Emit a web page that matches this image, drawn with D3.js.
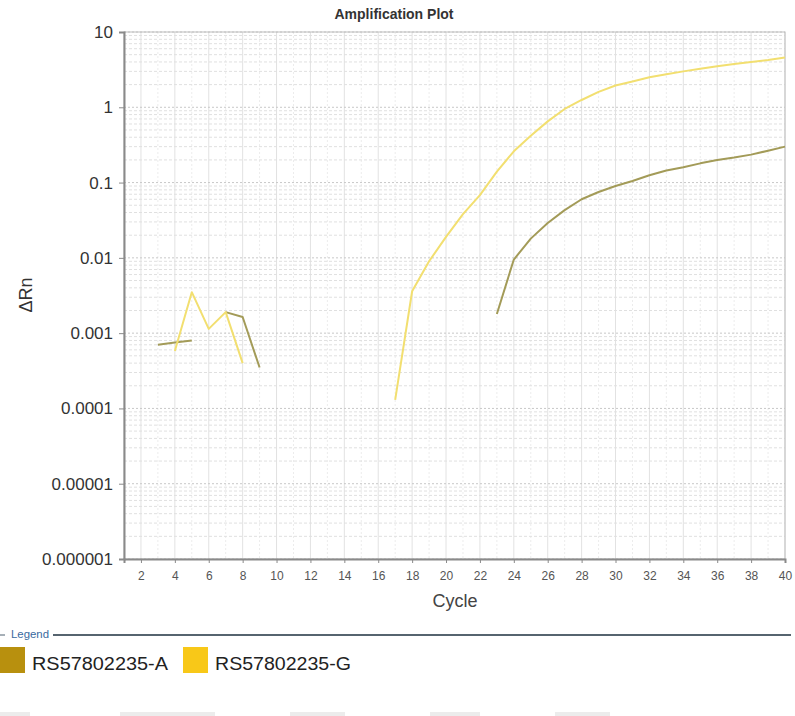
<!DOCTYPE html>
<html>
<head>
<meta charset="utf-8">
<script src="https://cdnjs.cloudflare.com/ajax/libs/d3/7.8.5/d3.min.js"></script>
<style>
  body { margin: 0; background: #fff; }
  svg { display: block; font-family: "Liberation Sans", Arial, sans-serif; }
</style>
</head>
<body>
<svg id="chart" width="795" height="716"></svg>
<script>
// cycles 1..40, null where the trace is not drawn
const cycles = d3.range(1, 41)
const seriesA = [null, null, 0.0007, 0.00075, 0.0008, null, 0.0019, 0.00164, 0.00035,
  null, null, null, null, null, null, null, null, null, null, null, null, null,
  0.0018, 0.0095, 0.018, 0.029, 0.043, 0.06, 0.075, 0.09, 0.105, 0.125, 0.145, 0.16,
  0.18, 0.2, 0.215, 0.235, 0.265, 0.3]
const seriesG = [null, null, null, 0.00058, 0.0035, 0.00114, 0.0019, 0.0004,
  null, null, null, null, null, null, null, null,
  0.00013, 0.0036, 0.009, 0.019, 0.038, 0.068, 0.14, 0.26, 0.42, 0.65, 0.95, 1.25,
  1.6, 1.95, 2.2, 2.5, 2.75, 3.0, 3.25, 3.5, 3.75, 4.0, 4.25, 4.6]
const seriesNames = ["RS57802235-A", "RS57802235-G"]
const lineColors = ["#a39b58", "#f2df70"]
const swatchColors = ["#b8900e", "#f8c818"]
const yTickValues = [10, 1, 0.1, 0.01, 0.001, 0.0001, 0.00001, 0.000001]
const yTickLabels = ["10", "1", "0.1", "0.01", "0.001", "0.0001", "0.00001", "0.000001"]
const xTickValues = d3.range(2, 41, 2)

const svg = d3.select("#chart")
const plot = {left: 124, right: 785, top: 32, bottom: 559}

const x = d3.scaleLinear().domain([1, 40]).range([plot.left, plot.right])
const y = d3.scaleLog().domain([0.000001, 10]).range([plot.bottom, plot.top])

// title
svg.append("text")
  .attr("x", 394).attr("y", 19)
  .attr("text-anchor", "middle")
  .attr("font-size", 14).attr("font-weight", "bold")
  .attr("fill", "#333")
  .text("Amplification Plot")

// grid - vertical
const grid = svg.append("g")
grid.selectAll("line.vgrid")
  .data(cycles.slice(1))
  .join("line")
  .attr("class", "vgrid")
  .attr("x1", d => x(d)).attr("x2", d => x(d))
  .attr("y1", plot.top).attr("y2", plot.bottom)
  .attr("stroke", d => d % 2 == 0 ? "#e2e2e2" : "#ececec")
  .attr("stroke-dasharray", d => d % 2 == 0 ? null : "2,2")

// grid - horizontal minor (2..9 per decade)
let minors = []
for (let e = -6; e < 1; e++) {
  for (let m = 2; m < 10; m++) minors.push(m * Math.pow(10, e))
}
grid.selectAll("line.hminor")
  .data(minors)
  .join("line")
  .attr("class", "hminor")
  .attr("x1", plot.left).attr("x2", plot.right)
  .attr("y1", d => y(d)).attr("y2", d => y(d))
  .attr("stroke", "#e0e0e0")
  .attr("stroke-dasharray", "3,2")

grid.selectAll("line.hmajor")
  .data(yTickValues)
  .join("line")
  .attr("class", "hmajor")
  .attr("x1", plot.left).attr("x2", plot.right)
  .attr("y1", d => y(d)).attr("y2", d => y(d))
  .attr("stroke", "#c8c8c8")
  .attr("stroke-dasharray", "2,2")

// frame
svg.append("rect")
  .attr("x", plot.left).attr("y", plot.top)
  .attr("width", plot.right - plot.left).attr("height", plot.bottom - plot.top)
  .attr("fill", "none").attr("stroke", "#bdbdbd")

// axes
const yAxis = d3.axisLeft(y)
  .tickValues(yTickValues)
  .tickFormat((d, i) => yTickLabels[i])
  .tickSize(5).tickPadding(6)
const yG = svg.append("g").attr("transform", `translate(${plot.left},0)`).call(yAxis)
yG.select(".domain").attr("stroke", "#8a8a8a").attr("stroke-width", 2)
yG.selectAll(".tick line").attr("stroke", "#8a8a8a")
yG.selectAll(".tick text").attr("font-size", 17).attr("fill", "#333")
  .attr("font-family", "Liberation Sans, Arial, sans-serif")

const xAxis = d3.axisBottom(x)
  .tickValues(xTickValues)
  .tickFormat(d3.format("d"))
  .tickSize(4).tickPadding(8)
const xG = svg.append("g").attr("transform", `translate(0,${plot.bottom})`).call(xAxis)
xG.select(".domain").attr("stroke", "#8a8a8a").attr("stroke-width", 2)
xG.selectAll(".tick line").attr("stroke", "#8a8a8a")
xG.selectAll(".tick text").attr("font-size", 12).attr("fill", "#555")
  .attr("font-family", "Liberation Sans, Arial, sans-serif")

// axis titles
svg.append("text")
  .attr("transform", "translate(32,295) rotate(-90)")
  .attr("text-anchor", "middle")
  .attr("font-size", 18).attr("fill", "#333")
  .text("ΔRn")
svg.append("text")
  .attr("x", 455).attr("y", 607)
  .attr("text-anchor", "middle")
  .attr("font-size", 18).attr("fill", "#444")
  .text("Cycle")

// traces
const line = d3.line()
  .defined(d => d.v != null)
  .x(d => x(d.c))
  .y(d => y(d.v))

const traces = [seriesA, seriesG].map((s, i) => ({
  name: seriesNames[i],
  color: lineColors[i],
  points: cycles.map((c, j) => ({c: c, v: s[j]}))
}))

svg.append("g")
  .selectAll("path")
  .data(traces)
  .join("path")
  .attr("fill", "none")
  .attr("stroke", d => d.color)
  .attr("stroke-width", 2)
  .attr("stroke-linejoin", "round")
  .attr("d", d => line(d.points))

// legend
const legend = svg.append("g")
legend.append("line")
  .attr("x1", 0).attr("x2", 5).attr("y1", 635).attr("y2", 635)
  .attr("stroke", "#4f6070").attr("stroke-width", 1)
legend.append("text")
  .attr("x", 11).attr("y", 638)
  .attr("font-size", 10).attr("fill", "#3a6aa0")
  .attr("textLength", 38).attr("lengthAdjust", "spacingAndGlyphs")
  .text("Legend")
legend.append("line")
  .attr("x1", 53).attr("x2", 791).attr("y1", 635).attr("y2", 635)
  .attr("stroke", "#56646f").attr("stroke-width", 2)

const legendX = [0, 183]
const items = legend.selectAll("g.item")
  .data(seriesNames)
  .join("g")
  .attr("class", "item")
  .attr("transform", (d, i) => `translate(${legendX[i]},647)`)
items.append("rect")
  .attr("width", 25).attr("height", 26)
  .attr("fill", (d, i) => swatchColors[i])
items.append("text")
  .attr("x", 32).attr("y", 23)
  .attr("font-size", 18).attr("fill", "#222")
  .attr("textLength", 136).attr("lengthAdjust", "spacingAndGlyphs")
  .text(d => d)

// faint tab strip at the bottom edge
const tabs = [[0, 30], [120, 215], [290, 345], [430, 480], [555, 610]]
svg.append("g")
  .selectAll("rect")
  .data(tabs)
  .join("rect")
  .attr("x", d => d[0]).attr("width", d => d[1] - d[0])
  .attr("y", 712).attr("height", 4)
  .attr("fill", "#ececec")
</script>
</body>
</html>
